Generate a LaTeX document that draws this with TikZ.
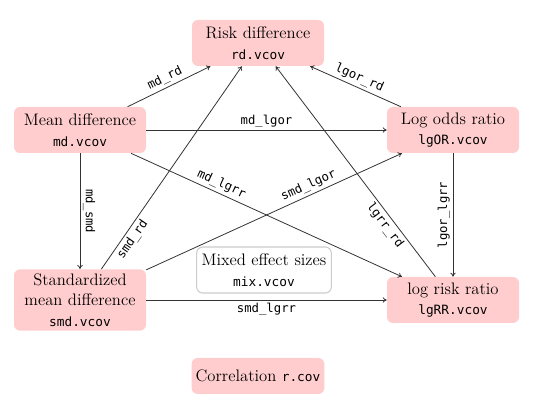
\documentclass[tikz,border=0pt]{standalone}
\usepackage{fontspec}
\setmonofont{DejaVu Sans Mono}
\usetikzlibrary{arrows.meta}
\definecolor{boxpink}{HTML}{FFCDCD}
\definecolor{edgegray}{HTML}{333333}
\definecolor{mixborder}{HTML}{CCCCCC}
\newcommand\mycode[1]{{\fontsize{9.6}{13}\ttfamily #1}}
\begin{document}
\begin{tikzpicture}[x=0.75pt,y=-0.75pt,
  box/.style={draw=none, fill=boxpink, rounded corners=4.5pt, minimum width=99pt,
    minimum height=34.5pt, align=center, inner sep=3pt,
    font=\fontsize{12.5}{15.5}\selectfont},
  mixbox/.style={box, fill=white, draw=mixborder, line width=0.8pt, minimum width=101pt},
  conn/.style={draw=edgegray, line width=0.6pt, -{To[length=3pt,width=4pt]}},
  lab/.style={font=\fontsize{9.2}{12}\ttfamily, inner sep=2pt, text=black}]
\useasboundingbox (0,0) rectangle (540,402);
\node[box] (rd) at (258,43) {Risk difference\\\mycode{rd.vcov}};
\node[box] (md) at (80,130) {Mean difference\\\mycode{md.vcov}};
\node[box] (lgor) at (453,130) {Log odds ratio\\\mycode{lgOR.vcov}};
\node[box] (smd) at (80,300) {Standardized\\mean difference\\\mycode{smd.vcov}};
\node[box] (lgrr) at (453,300) {log risk ratio\\\mycode{lgRR.vcov}};
\node[mixbox] (mix) at (264,270) {Mixed effect sizes\\\mycode{mix.vcov}};
\node[box, minimum height=27pt] (cor) at (258,376) {Correlation \mycode{r.cov}};
\draw[conn] (md) -- node[lab, sloped, above] {md\_rd} (rd);
\draw[conn] (md) -- node[lab, above] {md\_lgor} (lgor);
\draw[conn] (md) -- node[lab, sloped, above, pos=0.32] {md\_lgrr} (lgrr);
\draw[conn] (md) -- node[lab, anchor=south, rotate=-90] {md\_smd} (smd);
\draw[conn] (smd) -- node[lab, sloped, below, pos=0.17] {smd\_rd} (rd);
\draw[conn] (smd) -- node[lab, sloped, above, pos=0.65] {smd\_lgor} (lgor);
\draw[conn] (smd) -- node[lab, below] {smd\_lgrr} (lgrr);
\draw[conn] (lgor) -- node[lab, sloped, above] {lgor\_rd} (rd);
\draw[conn] (lgrr) -- node[lab, sloped, below, pos=0.27] {lgrr\_rd} (rd);
\draw[conn] (lgor) -- node[lab, anchor=south, rotate=90] {lgor\_lgrr} (lgrr);
\end{tikzpicture}
\end{document}
